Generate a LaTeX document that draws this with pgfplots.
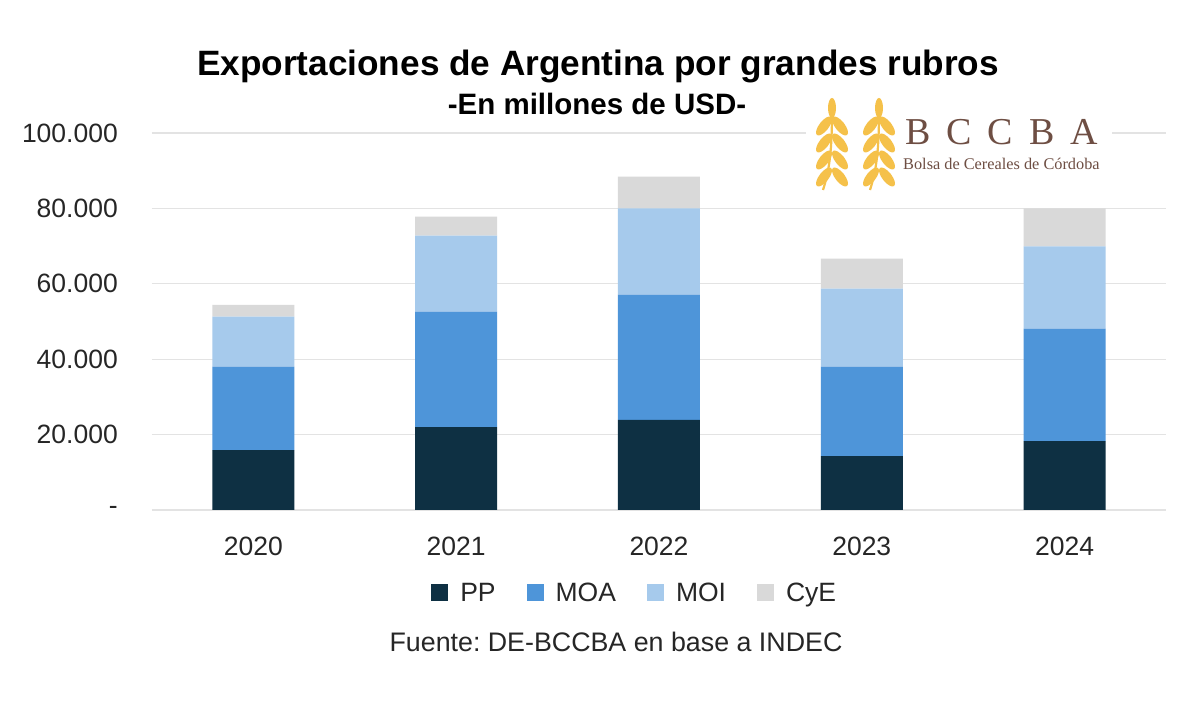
\documentclass[border=0pt]{standalone}
\usepackage{fontspec}
\setmainfont{Liberation Sans}
\newfontfamily\serifl{Liberation Serif}
\usepackage{pgfplots}
\pgfplotsset{compat=1.18}
\usepackage{pgfplotstable}
\frenchspacing
\definecolor{cPP}{HTML}{0E3043}
\definecolor{cMOA}{HTML}{4E95D9}
\definecolor{cMOI}{HTML}{A6CAEC}
\definecolor{cCyE}{HTML}{D9D9D9}
\definecolor{gridc}{HTML}{E3E3E3}
\definecolor{txt}{HTML}{262626}
\definecolor{gold}{HTML}{F5C14A}
\definecolor{brownl}{HTML}{6E4E43}

\pgfplotstableread{
x PP MOA MOI CyE
0 15900 22100 13300 3100
1 22000 30600 20200 5000
2 23900 33200 22900 8400
3 14300 23700 20700 8000
4 18300 29800 21800 10100
}\datatable

\begin{document}
\begin{tikzpicture}[x=1pt,y=1pt]
\useasboundingbox (0,0) rectangle (1200,708);
\fill[white] (0,0) rectangle (1200,708);
\begin{axis}[
  at={(152pt,198pt)}, anchor=south west,
  scale only axis, width=1014pt, height=377pt,
  ybar stacked, bar width=82pt,
  xmin=-0.5, xmax=4.5, ymin=0, ymax=100000,
  enlargelimits=false,
  scaled y ticks=false,
  xtick={0,1,2,3,4},
  xticklabels={2020,2021,2022,2023,2024},
  ytick={0,20000,40000,60000,80000,100000},
  yticklabels={-,20.000,40.000,60.000,80.000,100.000},
  major tick length=0pt,
  axis line style={draw=none},
  ymajorgrids, grid style={gridc, line width=1.2pt},
  /pgf/number format/assume math mode=true,
  tick label style={font=\fontsize{26.5}{30}\selectfont, text=txt},
  yticklabel style={anchor=east, inner sep=0pt, xshift=-34pt},
  xticklabel style={anchor=north, inner sep=0pt, yshift=-27pt},
  legend columns=4,
  legend style={draw=none, fill=none, at={(0.481,-0.22)}, anchor=center,
    font=\fontsize{26.5}{30}\selectfont, text=txt,
    nodes={inner xsep=12pt, inner ysep=0pt},
    /tikz/every even column/.append style={column sep=19pt}},
  legend image code/.code={\fill[#1] (0pt,-8.5pt) rectangle (17pt,8.5pt);},
]
\addplot[fill=cPP, draw=none] table[x=x, y=PP] {\datatable};
\addplot[fill=cMOA, draw=none] table[x=x, y=MOA] {\datatable};
\addplot[fill=cMOI, draw=none] table[x=x, y=MOI] {\datatable};
\addplot[fill=cCyE, draw=none] table[x=x, y=CyE] {\datatable};
\legend{PP,MOA,MOI,CyE}
\end{axis}
% titles
\node[anchor=base, inner sep=0pt, text=black] at (598,632) {\fontsize{35.2}{38}\selectfont\bfseries Exportaciones de Argentina por grandes rubros};
\node[anchor=base, inner sep=0pt, text=black] at (597,593) {\fontsize{29.5}{32}\selectfont\bfseries -En millones de USD-};
\node[anchor=base, inner sep=0pt, text=txt] at (616,56) {\fontsize{26.8}{30}\selectfont Fuente: DE-BCCBA en base a INDEC};
% logo
\fill[white] (806,515) rectangle (1112,612);
\foreach \cx in {832,879}{
  \draw[gold, line width=2.2pt] (\cx,598) .. controls (\cx,560) and (\cx-2,540) .. (\cx-9,518);
  \fill[gold] (\cx,600) ellipse (4pt and 10pt);
  \foreach \yy in {582,565,548,531}{
    \fill[gold, rotate around={-38:(\cx-8,\yy)}] (\cx-8,\yy) ellipse (4.8pt and 11.5pt);
    \fill[gold, rotate around={38:(\cx+8,\yy)}] (\cx+8,\yy) ellipse (4.8pt and 11.5pt);
  }
}
\node[anchor=base west, inner sep=0pt, text=brownl] at (905,563) {\serifl\fontsize{38}{40}\selectfont B\hspace{16pt}C\hspace{16pt}C\hspace{16pt}B\hspace{16pt}A};
\node[anchor=base west, inner sep=0pt, text=brownl] at (903,538) {\serifl\fontsize{16.3}{18}\selectfont Bolsa de Cereales de Córdoba};
\end{tikzpicture}
\end{document}
